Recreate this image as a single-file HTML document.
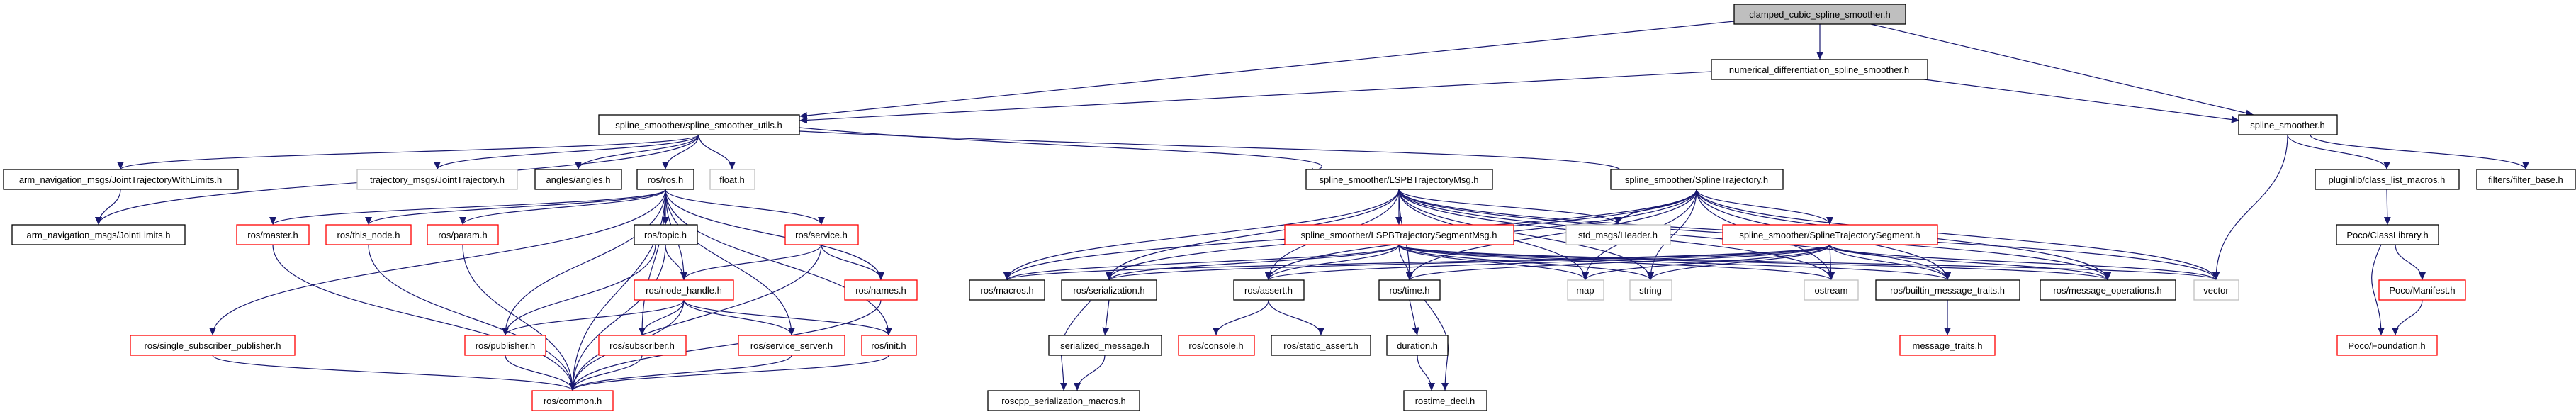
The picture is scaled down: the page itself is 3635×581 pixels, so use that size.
<!DOCTYPE html>
<html><head><meta charset="utf-8"><style>
html,body{margin:0;padding:0;background:#fff;}
svg{display:block;}
text{font-family:"Liberation Sans",sans-serif;font-size:13px;text-anchor:middle;fill:#000;}
.n{fill:#fff;stroke:#000;stroke-width:1.3;}
.r{fill:#fff;stroke:#ff0000;stroke-width:1.3;}
.g{fill:#fff;stroke:#bfbfbf;stroke-width:1.3;}
.e path{fill:none;stroke:#191970;stroke-width:1.2;marker-end:url(#a);}
</style></head><body>
<svg width="3635" height="581" viewBox="0 0 3635 581" xmlns="http://www.w3.org/2000/svg">
<defs><marker id="a" markerUnits="userSpaceOnUse" markerWidth="12" markerHeight="10" refX="11" refY="5" orient="auto"><path d="M0,0 L11,5 L0,10 z" fill="#191970"/></marker></defs>
<g class="e">
<path d="M2447 30 L1128 164"/>
<path d="M2415 101 L1128 170"/>
<path d="M2640 34 L3180 162"/>
<path d="M2700 110 L3160 170"/>
<path d="M2568 34 L2568 84"/>
<path d="M986 190 C986 214 170 214 170 239"/>
<path d="M986 190 C986 253 139 253 139 317"/>
<path d="M986 190 C986 214 617 214 617 239"/>
<path d="M986 190 C986 214 816 214 816 239"/>
<path d="M986 190 C986 214 939 214 939 239"/>
<path d="M986 190 C986 214 1033 214 1033 239"/>
<path d="M1128 180 C1500 214 1974 214 1843 244"/>
<path d="M1128 185 C1700 214 2394 214 2273 248"/>
<path d="M170 267 C170 292 139 292 139 317"/>
<path d="M939 267 C939 292 385 292 385 317"/>
<path d="M939 267 C939 292 520 292 520 317"/>
<path d="M939 267 C939 292 653 292 653 317"/>
<path d="M939 267 L939 317"/>
<path d="M939 267 C939 292 1159 292 1159 317"/>
<path d="M939 267 C939 331 965 331 965 395"/>
<path d="M939 267 C939 331 1243 331 1243 395"/>
<path d="M939 267 C939 370 300 370 300 473"/>
<path d="M939 267 C939 370 713 370 713 473"/>
<path d="M939 267 C939 370 906 370 906 473"/>
<path d="M939 267 C939 370 1117 370 1117 473"/>
<path d="M939 267 C939 370 1254 370 1254 473"/>
<path d="M939 267 C939 409 808 409 808 551"/>
<path d="M385 345 C385 448 808 448 808 551"/>
<path d="M520 345 C520 448 808 448 808 551"/>
<path d="M653 345 C653 448 808 448 808 551"/>
<path d="M939 345 C939 370 965 370 965 395"/>
<path d="M939 345 C939 448 808 448 808 551"/>
<path d="M925 345 C925 420 713 420 713 473"/>
<path d="M1159 345 C1159 370 965 370 965 395"/>
<path d="M1159 345 C1159 370 1243 370 1243 395"/>
<path d="M1159 345 C1159 448 808 448 808 551"/>
<path d="M965 423 C965 448 713 448 713 473"/>
<path d="M965 423 C965 448 906 448 906 473"/>
<path d="M965 423 C965 448 1117 448 1117 473"/>
<path d="M965 423 C965 448 1254 448 1254 473"/>
<path d="M965 423 C965 487 808 487 808 551"/>
<path d="M1243 423 C1243 487 808 487 808 551"/>
<path d="M300 501 C300 526 808 526 808 551"/>
<path d="M713 501 C713 526 808 526 808 551"/>
<path d="M906 501 C906 526 808 526 808 551"/>
<path d="M1117 501 C1117 526 808 526 808 551"/>
<path d="M1254 501 C1254 526 808 526 808 551"/>
<path d="M1974 267 L1974 317"/>
<path d="M1974 267 C1974 292 2283 292 2283 317"/>
<path d="M1974 267 C1974 331 1421 331 1421 395"/>
<path d="M1974 267 C1974 331 1565 331 1565 395"/>
<path d="M1974 267 C1974 331 1790 331 1790 395"/>
<path d="M1974 267 C1974 331 1989 331 1989 395"/>
<path d="M1974 267 C1974 331 2237 331 2237 395"/>
<path d="M1974 267 C1974 331 2329 331 2329 395"/>
<path d="M1974 267 C1974 331 2584 331 2584 395"/>
<path d="M1974 267 C1974 331 2748 331 2748 395"/>
<path d="M1974 267 C1974 331 2974 331 2974 395"/>
<path d="M1974 267 C1974 331 3127 331 3127 395"/>
<path d="M2394 267 C2394 292 2283 292 2283 317"/>
<path d="M2394 267 C2394 292 2582 292 2582 317"/>
<path d="M2394 267 C2394 331 1421 331 1421 395"/>
<path d="M2394 267 C2394 331 1565 331 1565 395"/>
<path d="M2394 267 C2394 331 1790 331 1790 395"/>
<path d="M2394 267 C2394 331 1989 331 1989 395"/>
<path d="M2394 267 C2394 331 2237 331 2237 395"/>
<path d="M2394 267 C2394 331 2329 331 2329 395"/>
<path d="M2394 267 C2394 331 2584 331 2584 395"/>
<path d="M2394 267 C2394 331 2748 331 2748 395"/>
<path d="M2394 267 C2394 331 2974 331 2974 395"/>
<path d="M2394 267 C2394 331 3127 331 3127 395"/>
<path d="M1974 345 C1974 370 1421 370 1421 395"/>
<path d="M1974 345 C1974 370 1565 370 1565 395"/>
<path d="M1974 345 C1974 370 1790 370 1790 395"/>
<path d="M1974 345 C1974 370 1989 370 1989 395"/>
<path d="M1974 345 C1974 370 2237 370 2237 395"/>
<path d="M1974 345 C1974 370 2329 370 2329 395"/>
<path d="M1974 345 C1974 370 2584 370 2584 395"/>
<path d="M1974 345 C1974 370 2748 370 2748 395"/>
<path d="M1974 345 C1974 370 2974 370 2974 395"/>
<path d="M1974 345 C1974 370 3127 370 3127 395"/>
<path d="M2582 345 C2582 370 1421 370 1421 395"/>
<path d="M2582 345 C2582 370 1565 370 1565 395"/>
<path d="M2582 345 C2582 370 1790 370 1790 395"/>
<path d="M2582 345 C2582 370 1989 370 1989 395"/>
<path d="M2582 345 C2582 370 2237 370 2237 395"/>
<path d="M2582 345 C2582 370 2329 370 2329 395"/>
<path d="M2582 345 L2584 395"/>
<path d="M2582 345 C2582 370 2748 370 2748 395"/>
<path d="M2582 345 C2582 370 2974 370 2974 395"/>
<path d="M2582 345 C2582 370 3127 370 3127 395"/>
<path d="M1565 423 L1559 473"/>
<path d="M1540 423 C1480 487 1501 487 1501 551"/>
<path d="M1559 501 C1559 526 1520 526 1520 551"/>
<path d="M1790 423 C1790 448 1716 448 1716 473"/>
<path d="M1790 423 C1790 448 1864 448 1864 473"/>
<path d="M1989 423 L2000 473"/>
<path d="M2010 423 C2060 487 2039 487 2039 551"/>
<path d="M2000 501 C2000 526 2020 526 2020 551"/>
<path d="M2748 423 L2748 473"/>
<path d="M3228 190 C3228 292 3127 292 3127 395"/>
<path d="M3228 190 C3228 214 3368 214 3368 239"/>
<path d="M3260 190 C3260 214 3564 214 3564 239"/>
<path d="M3368 267 L3369 317"/>
<path d="M3380 345 C3380 370 3418 370 3418 395"/>
<path d="M3360 345 C3330 409 3360 409 3360 473"/>
<path d="M3418 423 C3418 448 3380 448 3380 473"/>
</g>
<g>
<rect x="2447" y="6" width="242" height="28" fill="#bfbfbf" stroke="#000" stroke-width="1.3"/><text x="2568" y="25">clamped_cubic_spline_smoother.h</text>
<rect class="n" x="2415" y="84" width="305" height="28"/><text x="2567" y="103">numerical_differentiation_spline_smoother.h</text>
<rect class="n" x="845" y="162" width="283" height="28"/><text x="986" y="181">spline_smoother/spline_smoother_utils.h</text>
<rect class="n" x="3159" y="162" width="139" height="28"/><text x="3228" y="181">spline_smoother.h</text>
<rect class="n" x="5" y="239" width="331" height="28"/><text x="170" y="258">arm_navigation_msgs/JointTrajectoryWithLimits.h</text>
<rect class="g" x="504" y="239" width="226" height="28"/><text x="617" y="258">trajectory_msgs/JointTrajectory.h</text>
<rect class="n" x="755" y="239" width="122" height="28"/><text x="816" y="258">angles/angles.h</text>
<rect class="n" x="899" y="239" width="80" height="28"/><text x="939" y="258">ros/ros.h</text>
<rect class="g" x="1002" y="239" width="63" height="28"/><text x="1033" y="258">float.h</text>
<rect class="n" x="1843" y="239" width="263" height="28"/><text x="1974" y="258">spline_smoother/LSPBTrajectoryMsg.h</text>
<rect class="n" x="2273" y="239" width="243" height="28"/><text x="2394" y="258">spline_smoother/SplineTrajectory.h</text>
<rect class="n" x="3267" y="239" width="203" height="28"/><text x="3368" y="258">pluginlib/class_list_macros.h</text>
<rect class="n" x="3495" y="239" width="139" height="28"/><text x="3564" y="258">filters/filter_base.h</text>
<rect class="n" x="17" y="317" width="244" height="28"/><text x="139" y="336">arm_navigation_msgs/JointLimits.h</text>
<rect class="r" x="334" y="317" width="102" height="28"/><text x="385" y="336">ros/master.h</text>
<rect class="r" x="460" y="317" width="120" height="28"/><text x="520" y="336">ros/this_node.h</text>
<rect class="r" x="603" y="317" width="100" height="28"/><text x="653" y="336">ros/param.h</text>
<rect class="n" x="895" y="317" width="89" height="28"/><text x="939" y="336">ros/topic.h</text>
<rect class="r" x="1108" y="317" width="103" height="28"/><text x="1159" y="336">ros/service.h</text>
<rect class="r" x="1813" y="317" width="323" height="28"/><text x="1974" y="336">spline_smoother/LSPBTrajectorySegmentMsg.h</text>
<rect class="g" x="2210" y="317" width="147" height="28"/><text x="2283" y="336">std_msgs/Header.h</text>
<rect class="r" x="2431" y="317" width="303" height="28"/><text x="2582" y="336">spline_smoother/SplineTrajectorySegment.h</text>
<rect class="n" x="3297" y="317" width="144" height="28"/><text x="3369" y="336">Poco/ClassLibrary.h</text>
<rect class="r" x="895" y="395" width="140" height="28"/><text x="965" y="414">ros/node_handle.h</text>
<rect class="r" x="1192" y="395" width="102" height="28"/><text x="1243" y="414">ros/names.h</text>
<rect class="n" x="1368" y="395" width="106" height="28"/><text x="1421" y="414">ros/macros.h</text>
<rect class="n" x="1498" y="395" width="134" height="28"/><text x="1565" y="414">ros/serialization.h</text>
<rect class="n" x="1741" y="395" width="99" height="28"/><text x="1790" y="414">ros/assert.h</text>
<rect class="n" x="1946" y="395" width="86" height="28"/><text x="1989" y="414">ros/time.h</text>
<rect class="g" x="2212" y="395" width="51" height="28"/><text x="2237" y="414">map</text>
<rect class="g" x="2300" y="395" width="59" height="28"/><text x="2329" y="414">string</text>
<rect class="g" x="2546" y="395" width="76" height="28"/><text x="2584" y="414">ostream</text>
<rect class="n" x="2647" y="395" width="203" height="28"/><text x="2748" y="414">ros/builtin_message_traits.h</text>
<rect class="n" x="2879" y="395" width="191" height="28"/><text x="2974" y="414">ros/message_operations.h</text>
<rect class="g" x="3096" y="395" width="63" height="28"/><text x="3127" y="414">vector</text>
<rect class="r" x="3357" y="395" width="122" height="28"/><text x="3418" y="414">Poco/Manifest.h</text>
<rect class="r" x="184" y="473" width="232" height="28"/><text x="300" y="492">ros/single_subscriber_publisher.h</text>
<rect class="r" x="656" y="473" width="114" height="28"/><text x="713" y="492">ros/publisher.h</text>
<rect class="r" x="845" y="473" width="123" height="28"/><text x="906" y="492">ros/subscriber.h</text>
<rect class="r" x="1042" y="473" width="150" height="28"/><text x="1117" y="492">ros/service_server.h</text>
<rect class="r" x="1216" y="473" width="77" height="28"/><text x="1254" y="492">ros/init.h</text>
<rect class="n" x="1480" y="473" width="159" height="28"/><text x="1559" y="492">serialized_message.h</text>
<rect class="r" x="1663" y="473" width="107" height="28"/><text x="1716" y="492">ros/console.h</text>
<rect class="n" x="1794" y="473" width="140" height="28"/><text x="1864" y="492">ros/static_assert.h</text>
<rect class="n" x="1957" y="473" width="86" height="28"/><text x="2000" y="492">duration.h</text>
<rect class="r" x="2681" y="473" width="134" height="28"/><text x="2748" y="492">message_traits.h</text>
<rect class="r" x="3298" y="473" width="141" height="28"/><text x="3368" y="492">Poco/Foundation.h</text>
<rect class="r" x="751" y="551" width="114" height="28"/><text x="808" y="570">ros/common.h</text>
<rect class="n" x="1394" y="551" width="214" height="28"/><text x="1501" y="570">roscpp_serialization_macros.h</text>
<rect class="n" x="1981" y="551" width="117" height="28"/><text x="2039" y="570">rostime_decl.h</text>
</g>
</svg>
</body></html>
